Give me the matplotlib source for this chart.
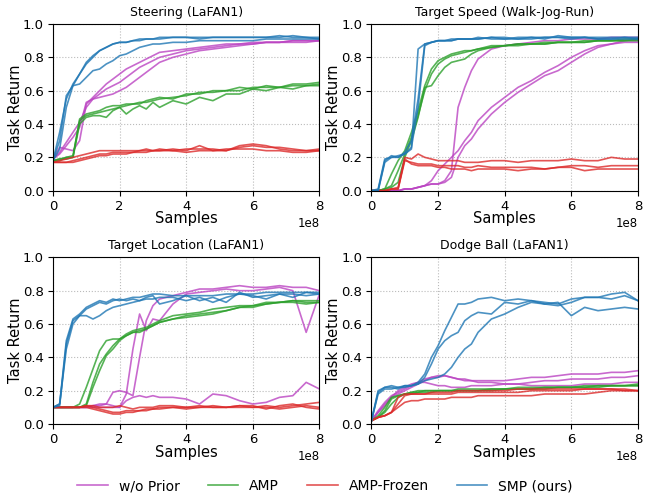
import matplotlib
matplotlib.use("Agg")
import matplotlib.pyplot as plt
import numpy as np

# sample counts (x1e8), finer early on where the curves move fast
steps = [0.0, 0.2, 0.4, 0.6, 0.8, 1.0, 1.2, 1.4, 1.6, 1.8, 2.0, 2.2, 2.4, 2.6, 2.8, 3.0,
         3.2, 3.6, 4.0, 4.4, 4.8, 5.2, 5.6, 6.0, 6.4, 6.8, 7.2, 7.6, 8.0]

methods = ["w/o Prior", "AMP", "AMP-Frozen", "SMP (ours)"]
titles = ["Steering (LaFAN1)", "Target Speed (Walk-Jog-Run)",
          "Target Location (LaFAN1)", "Dodge Ball (LaFAN1)"]

# ---- Steering (LaFAN1) ----
steer_noprior = [
    [0.19, 0.26, 0.25, 0.24, 0.30, 0.52, 0.56, 0.60, 0.64, 0.67, 0.70, 0.73, 0.75, 0.77, 0.79, 0.81,
     0.83, 0.84, 0.85, 0.86, 0.87, 0.88, 0.88, 0.89, 0.89, 0.89, 0.90, 0.90, 0.90],
    [0.19, 0.23, 0.29, 0.35, 0.41, 0.50, 0.55, 0.58, 0.61, 0.63, 0.65, 0.68, 0.71, 0.74, 0.76, 0.78,
     0.80, 0.82, 0.84, 0.85, 0.86, 0.87, 0.88, 0.88, 0.89, 0.89, 0.89, 0.89, 0.90],
    [0.19, 0.22, 0.27, 0.32, 0.38, 0.53, 0.55, 0.56, 0.57, 0.58, 0.60, 0.62, 0.65, 0.68, 0.71, 0.74,
     0.77, 0.80, 0.82, 0.84, 0.85, 0.86, 0.87, 0.88, 0.89, 0.89, 0.90, 0.90, 0.90],
]
steer_amp = [
    [0.18, 0.19, 0.20, 0.21, 0.42, 0.45, 0.46, 0.47, 0.48, 0.49, 0.50, 0.51, 0.52, 0.53, 0.53, 0.54,
     0.55, 0.56, 0.57, 0.59, 0.59, 0.60, 0.60, 0.62, 0.62, 0.62, 0.63, 0.63, 0.64],
    [0.18, 0.19, 0.19, 0.20, 0.40, 0.44, 0.45, 0.45, 0.44, 0.48, 0.50, 0.46, 0.49, 0.51, 0.49, 0.53,
     0.50, 0.54, 0.52, 0.56, 0.54, 0.58, 0.58, 0.61, 0.60, 0.62, 0.61, 0.63, 0.63],
    [0.18, 0.18, 0.20, 0.20, 0.43, 0.46, 0.47, 0.48, 0.50, 0.51, 0.51, 0.52, 0.52, 0.52, 0.54, 0.55,
     0.56, 0.55, 0.58, 0.58, 0.60, 0.60, 0.62, 0.61, 0.63, 0.62, 0.64, 0.64, 0.65],
]
steer_frozen = [
    [0.17, 0.18, 0.19, 0.20, 0.21, 0.22, 0.23, 0.24, 0.24, 0.24, 0.24, 0.24, 0.24, 0.24, 0.25, 0.24,
     0.24, 0.25, 0.24, 0.27, 0.24, 0.24, 0.26, 0.27, 0.26, 0.26, 0.25, 0.24, 0.24],
    [0.17, 0.17, 0.17, 0.18, 0.19, 0.20, 0.21, 0.22, 0.22, 0.23, 0.23, 0.23, 0.23, 0.24, 0.24, 0.24,
     0.25, 0.24, 0.25, 0.25, 0.25, 0.24, 0.27, 0.28, 0.27, 0.25, 0.24, 0.24, 0.25],
    [0.17, 0.17, 0.17, 0.17, 0.18, 0.19, 0.20, 0.21, 0.21, 0.22, 0.22, 0.22, 0.23, 0.23, 0.23, 0.24,
     0.24, 0.24, 0.23, 0.24, 0.24, 0.25, 0.25, 0.25, 0.24, 0.24, 0.23, 0.23, 0.24],
]
steer_smp = [
    [0.18, 0.35, 0.55, 0.64, 0.70, 0.76, 0.80, 0.84, 0.86, 0.88, 0.89, 0.89, 0.90, 0.90, 0.91, 0.91,
     0.91, 0.92, 0.92, 0.92, 0.92, 0.92, 0.92, 0.92, 0.92, 0.93, 0.92, 0.92, 0.91],
    [0.18, 0.30, 0.57, 0.63, 0.70, 0.77, 0.81, 0.84, 0.86, 0.88, 0.89, 0.89, 0.90, 0.91, 0.91, 0.91,
     0.92, 0.92, 0.92, 0.91, 0.92, 0.92, 0.92, 0.92, 0.92, 0.92, 0.93, 0.92, 0.92],
    [0.18, 0.25, 0.50, 0.63, 0.64, 0.68, 0.72, 0.73, 0.76, 0.78, 0.81, 0.82, 0.84, 0.86, 0.87, 0.88,
     0.88, 0.89, 0.89, 0.90, 0.90, 0.90, 0.90, 0.90, 0.91, 0.91, 0.91, 0.91, 0.91],
]

# ---- Target Speed (Walk-Jog-Run) ----
speed_noprior = [
    [0.0, 0.0, 0.0, 0.0, 0.0, 0.01, 0.01, 0.02, 0.03, 0.04, 0.04, 0.06, 0.12, 0.50, 0.62, 0.72,
     0.79, 0.85, 0.87, 0.88, 0.89, 0.90, 0.90, 0.91, 0.91, 0.91, 0.92, 0.92, 0.92],
    [0.0, 0.0, 0.0, 0.0, 0.0, 0.01, 0.01, 0.02, 0.03, 0.06, 0.12, 0.16, 0.20, 0.24, 0.30, 0.35,
     0.42, 0.50, 0.56, 0.62, 0.66, 0.71, 0.75, 0.80, 0.84, 0.87, 0.88, 0.90, 0.90],
    [0.0, 0.0, 0.0, 0.0, 0.0, 0.01, 0.01, 0.02, 0.03, 0.04, 0.04, 0.05, 0.08, 0.20, 0.27, 0.31,
     0.37, 0.46, 0.53, 0.59, 0.64, 0.69, 0.72, 0.77, 0.82, 0.86, 0.88, 0.89, 0.89],
]
speed_amp = [
    [0.0, 0.0, 0.01, 0.10, 0.18, 0.24, 0.35, 0.48, 0.63, 0.73, 0.78, 0.80, 0.82, 0.83, 0.84, 0.84,
     0.85, 0.87, 0.87, 0.88, 0.88, 0.89, 0.89, 0.89, 0.89, 0.90, 0.90, 0.90, 0.90],
    [0.0, 0.0, 0.01, 0.03, 0.12, 0.22, 0.32, 0.45, 0.60, 0.70, 0.76, 0.79, 0.81, 0.82, 0.83, 0.84,
     0.85, 0.86, 0.87, 0.88, 0.88, 0.88, 0.89, 0.89, 0.90, 0.90, 0.90, 0.90, 0.91],
    [0.0, 0.0, 0.01, 0.02, 0.05, 0.20, 0.30, 0.44, 0.62, 0.63, 0.69, 0.74, 0.77, 0.78, 0.79, 0.82,
     0.84, 0.86, 0.87, 0.87, 0.88, 0.88, 0.89, 0.89, 0.89, 0.90, 0.90, 0.91, 0.91],
]
speed_frozen = [
    [0.0, 0.0, 0.0, 0.01, 0.01, 0.20, 0.19, 0.22, 0.20, 0.19, 0.18, 0.18, 0.18, 0.18, 0.17, 0.17,
     0.17, 0.18, 0.18, 0.17, 0.18, 0.18, 0.18, 0.19, 0.18, 0.18, 0.20, 0.19, 0.19],
    [0.0, 0.0, 0.0, 0.01, 0.01, 0.18, 0.17, 0.16, 0.16, 0.16, 0.15, 0.15, 0.15, 0.15, 0.14, 0.14,
     0.15, 0.14, 0.14, 0.14, 0.14, 0.13, 0.14, 0.15, 0.15, 0.14, 0.15, 0.15, 0.15],
    [0.0, 0.0, 0.0, 0.01, 0.02, 0.19, 0.16, 0.15, 0.15, 0.15, 0.14, 0.14, 0.13, 0.13, 0.13, 0.12,
     0.13, 0.13, 0.13, 0.12, 0.13, 0.13, 0.14, 0.14, 0.12, 0.13, 0.13, 0.13, 0.13],
]
speed_smp = [
    [0.0, 0.01, 0.19, 0.20, 0.20, 0.22, 0.25, 0.85, 0.88, 0.89, 0.90, 0.90, 0.90, 0.91, 0.91, 0.91,
     0.91, 0.92, 0.92, 0.91, 0.92, 0.92, 0.92, 0.92, 0.92, 0.91, 0.91, 0.91, 0.91],
    [0.0, 0.0, 0.18, 0.21, 0.20, 0.23, 0.30, 0.55, 0.88, 0.89, 0.90, 0.90, 0.91, 0.91, 0.91, 0.91,
     0.92, 0.91, 0.91, 0.92, 0.92, 0.91, 0.93, 0.92, 0.92, 0.92, 0.92, 0.92, 0.92],
    [0.0, 0.0, 0.17, 0.20, 0.21, 0.22, 0.26, 0.50, 0.87, 0.89, 0.90, 0.90, 0.90, 0.91, 0.91, 0.91,
     0.91, 0.92, 0.91, 0.91, 0.91, 0.92, 0.92, 0.91, 0.92, 0.91, 0.91, 0.92, 0.91],
]

# ---- Target Location (LaFAN1) ----
loc_noprior = [
    [0.10, 0.10, 0.10, 0.10, 0.10, 0.10, 0.11, 0.12, 0.12, 0.11, 0.10, 0.14, 0.16, 0.17, 0.16, 0.17,
     0.16, 0.16, 0.15, 0.12, 0.18, 0.17, 0.14, 0.12, 0.13, 0.16, 0.17, 0.25, 0.21],
    [0.10, 0.10, 0.10, 0.10, 0.10, 0.10, 0.10, 0.10, 0.10, 0.10, 0.10, 0.18, 0.45, 0.66, 0.56, 0.63,
     0.62, 0.72, 0.78, 0.79, 0.80, 0.81, 0.80, 0.80, 0.81, 0.82, 0.80, 0.55, 0.78],
    [0.10, 0.10, 0.10, 0.10, 0.10, 0.10, 0.11, 0.11, 0.12, 0.19, 0.20, 0.19, 0.17, 0.40, 0.62, 0.71,
     0.75, 0.77, 0.79, 0.81, 0.81, 0.82, 0.83, 0.82, 0.82, 0.83, 0.82, 0.82, 0.80],
]
loc_amp = [
    [0.10, 0.10, 0.10, 0.10, 0.12, 0.22, 0.33, 0.44, 0.50, 0.51, 0.51, 0.53, 0.55, 0.56, 0.57, 0.59,
     0.61, 0.63, 0.65, 0.66, 0.67, 0.68, 0.70, 0.71, 0.72, 0.73, 0.74, 0.74, 0.74],
    [0.10, 0.10, 0.10, 0.10, 0.10, 0.12, 0.25, 0.36, 0.42, 0.47, 0.51, 0.54, 0.56, 0.57, 0.58, 0.60,
     0.62, 0.65, 0.66, 0.67, 0.69, 0.70, 0.71, 0.71, 0.73, 0.73, 0.74, 0.73, 0.73],
    [0.10, 0.10, 0.10, 0.10, 0.10, 0.11, 0.22, 0.32, 0.41, 0.45, 0.50, 0.53, 0.55, 0.55, 0.57, 0.59,
     0.61, 0.63, 0.64, 0.65, 0.66, 0.68, 0.70, 0.70, 0.72, 0.73, 0.73, 0.72, 0.73],
]
loc_frozen = [
    [0.10, 0.10, 0.10, 0.10, 0.10, 0.11, 0.10, 0.09, 0.08, 0.07, 0.07, 0.08, 0.08, 0.08, 0.09, 0.09,
     0.10, 0.10, 0.09, 0.10, 0.10, 0.10, 0.11, 0.10, 0.10, 0.09, 0.10, 0.11, 0.10],
    [0.10, 0.10, 0.10, 0.10, 0.10, 0.10, 0.09, 0.08, 0.07, 0.06, 0.06, 0.07, 0.07, 0.08, 0.08, 0.09,
     0.09, 0.10, 0.10, 0.10, 0.11, 0.10, 0.10, 0.10, 0.11, 0.10, 0.11, 0.12, 0.13],
    [0.10, 0.10, 0.10, 0.10, 0.10, 0.11, 0.11, 0.10, 0.10, 0.10, 0.11, 0.10, 0.09, 0.10, 0.10, 0.10,
     0.11, 0.11, 0.10, 0.11, 0.10, 0.10, 0.11, 0.11, 0.09, 0.11, 0.12, 0.10, 0.09],
]
loc_smp = [
    [0.10, 0.12, 0.50, 0.63, 0.66, 0.70, 0.72, 0.74, 0.73, 0.75, 0.74, 0.75, 0.76, 0.76, 0.77, 0.78,
     0.78, 0.77, 0.77, 0.77, 0.77, 0.78, 0.78, 0.78, 0.79, 0.79, 0.79, 0.79, 0.79],
    [0.10, 0.11, 0.48, 0.62, 0.65, 0.69, 0.71, 0.73, 0.72, 0.74, 0.75, 0.74, 0.75, 0.74, 0.76, 0.77,
     0.72, 0.74, 0.77, 0.74, 0.76, 0.73, 0.79, 0.76, 0.77, 0.78, 0.76, 0.79, 0.78],
    [0.10, 0.12, 0.45, 0.60, 0.65, 0.65, 0.63, 0.65, 0.68, 0.70, 0.71, 0.72, 0.73, 0.74, 0.75, 0.75,
     0.76, 0.76, 0.74, 0.76, 0.73, 0.76, 0.78, 0.77, 0.75, 0.78, 0.78, 0.77, 0.78],
]

# ---- Dodge Ball (LaFAN1) ----
dodge_noprior = [
    [0.02, 0.08, 0.13, 0.17, 0.19, 0.21, 0.23, 0.25, 0.27, 0.28, 0.29, 0.29, 0.28, 0.27, 0.27, 0.26,
     0.26, 0.26, 0.26, 0.27, 0.28, 0.28, 0.29, 0.30, 0.30, 0.30, 0.31, 0.31, 0.32],
    [0.02, 0.07, 0.12, 0.16, 0.18, 0.20, 0.22, 0.24, 0.26, 0.28, 0.28, 0.29, 0.28, 0.27, 0.26, 0.26,
     0.25, 0.25, 0.24, 0.24, 0.25, 0.26, 0.26, 0.27, 0.27, 0.27, 0.28, 0.28, 0.29],
    [0.02, 0.07, 0.11, 0.16, 0.20, 0.22, 0.24, 0.25, 0.25, 0.24, 0.23, 0.23, 0.22, 0.22, 0.22, 0.23,
     0.23, 0.23, 0.24, 0.24, 0.23, 0.23, 0.23, 0.23, 0.24, 0.24, 0.24, 0.25, 0.25],
]
dodge_amp = [
    [0.02, 0.05, 0.10, 0.16, 0.17, 0.18, 0.19, 0.19, 0.20, 0.20, 0.20, 0.20, 0.20, 0.20, 0.20, 0.20,
     0.20, 0.21, 0.21, 0.21, 0.21, 0.22, 0.22, 0.22, 0.22, 0.22, 0.23, 0.23, 0.23],
    [0.02, 0.04, 0.08, 0.15, 0.17, 0.18, 0.19, 0.20, 0.20, 0.20, 0.20, 0.20, 0.20, 0.21, 0.21, 0.21,
     0.21, 0.21, 0.21, 0.22, 0.22, 0.22, 0.22, 0.22, 0.23, 0.23, 0.23, 0.23, 0.24],
    [0.02, 0.04, 0.07, 0.12, 0.16, 0.18, 0.18, 0.19, 0.19, 0.19, 0.20, 0.20, 0.20, 0.20, 0.20, 0.20,
     0.20, 0.20, 0.21, 0.21, 0.21, 0.21, 0.22, 0.22, 0.22, 0.23, 0.23, 0.23, 0.23],
]
dodge_frozen = [
    [0.02, 0.04, 0.05, 0.07, 0.16, 0.18, 0.18, 0.18, 0.18, 0.19, 0.19, 0.19, 0.19, 0.20, 0.20, 0.20,
     0.20, 0.20, 0.20, 0.21, 0.21, 0.21, 0.21, 0.21, 0.21, 0.21, 0.21, 0.21, 0.20],
    [0.02, 0.04, 0.05, 0.07, 0.12, 0.17, 0.18, 0.18, 0.18, 0.18, 0.18, 0.18, 0.18, 0.19, 0.19, 0.19,
     0.19, 0.19, 0.19, 0.19, 0.20, 0.20, 0.20, 0.20, 0.21, 0.21, 0.21, 0.20, 0.20],
    [0.02, 0.04, 0.05, 0.07, 0.10, 0.13, 0.14, 0.14, 0.15, 0.15, 0.15, 0.15, 0.16, 0.16, 0.16, 0.16,
     0.17, 0.17, 0.17, 0.17, 0.17, 0.18, 0.18, 0.18, 0.18, 0.19, 0.20, 0.20, 0.20],
]
dodge_smp = [
    [0.02, 0.20, 0.22, 0.23, 0.22, 0.22, 0.23, 0.25, 0.30, 0.40, 0.47, 0.56, 0.64, 0.72, 0.72, 0.73,
     0.75, 0.76, 0.74, 0.75, 0.74, 0.72, 0.71, 0.73, 0.76, 0.76, 0.78, 0.79, 0.74],
    [0.02, 0.19, 0.22, 0.22, 0.21, 0.23, 0.23, 0.24, 0.28, 0.36, 0.45, 0.50, 0.53, 0.55, 0.62, 0.65,
     0.67, 0.66, 0.73, 0.72, 0.74, 0.73, 0.72, 0.75, 0.76, 0.76, 0.75, 0.77, 0.74],
    [0.02, 0.18, 0.21, 0.21, 0.22, 0.23, 0.23, 0.24, 0.26, 0.27, 0.28, 0.30, 0.34, 0.40, 0.45, 0.48,
     0.55, 0.63, 0.66, 0.70, 0.73, 0.72, 0.73, 0.65, 0.70, 0.68, 0.69, 0.70, 0.69],
]

panels = [
    [steer_noprior, steer_amp, steer_frozen, steer_smp],
    [speed_noprior, speed_amp, speed_frozen, speed_smp],
    [loc_noprior, loc_amp, loc_frozen, loc_smp],
    [dodge_noprior, dodge_amp, dodge_frozen, dodge_smp],
]

colors = ["#bb44c2", "#2ca02c", "#dc2a2a", "#1f77b4"]

x = np.array(steps) * 1e8

fig, axs = plt.subplots(2, 2, figsize=(6.5, 4.95), dpi=100)
fig.subplots_adjust(left=0.0815, right=0.9815, top=0.9515, bottom=0.1434,
                    wspace=0.195, hspace=0.40)

for idx, ax in enumerate(axs.flat):
    for m, runs in enumerate(panels[idx]):
        for run in runs:
            ax.plot(x, run, color=colors[m], linewidth=1.2, alpha=0.8)
    ax.set_xlim(0, 8e8)
    ax.set_ylim(0, 1)
    ax.set_xticks(np.arange(0, 9e8, 2e8))
    ax.set_yticks(np.arange(0, 1.01, 0.2))
    ax.grid(True, linestyle=":", color="#bbbbbb", linewidth=0.8)
    ax.tick_params(labelsize=9.5, pad=3)
    ax.xaxis.get_offset_text().set_fontsize(8.5)
    ax.set_title(titles[idx], fontsize=9)
    ax.set_xlabel("Samples", fontsize=10.5, labelpad=-1)
    ax.set_ylabel("Task Return", fontsize=10.5, labelpad=0)

handles = [plt.Line2D([], [], color=c, linewidth=1.2, alpha=0.8) for c in colors]
fig.legend(handles, methods, loc="center", bbox_to_anchor=(0.5, 0.018), ncol=4,
           frameon=False, fontsize=10, handlelength=2.2, columnspacing=2.0)

fig.savefig("out.png", dpi=100)
